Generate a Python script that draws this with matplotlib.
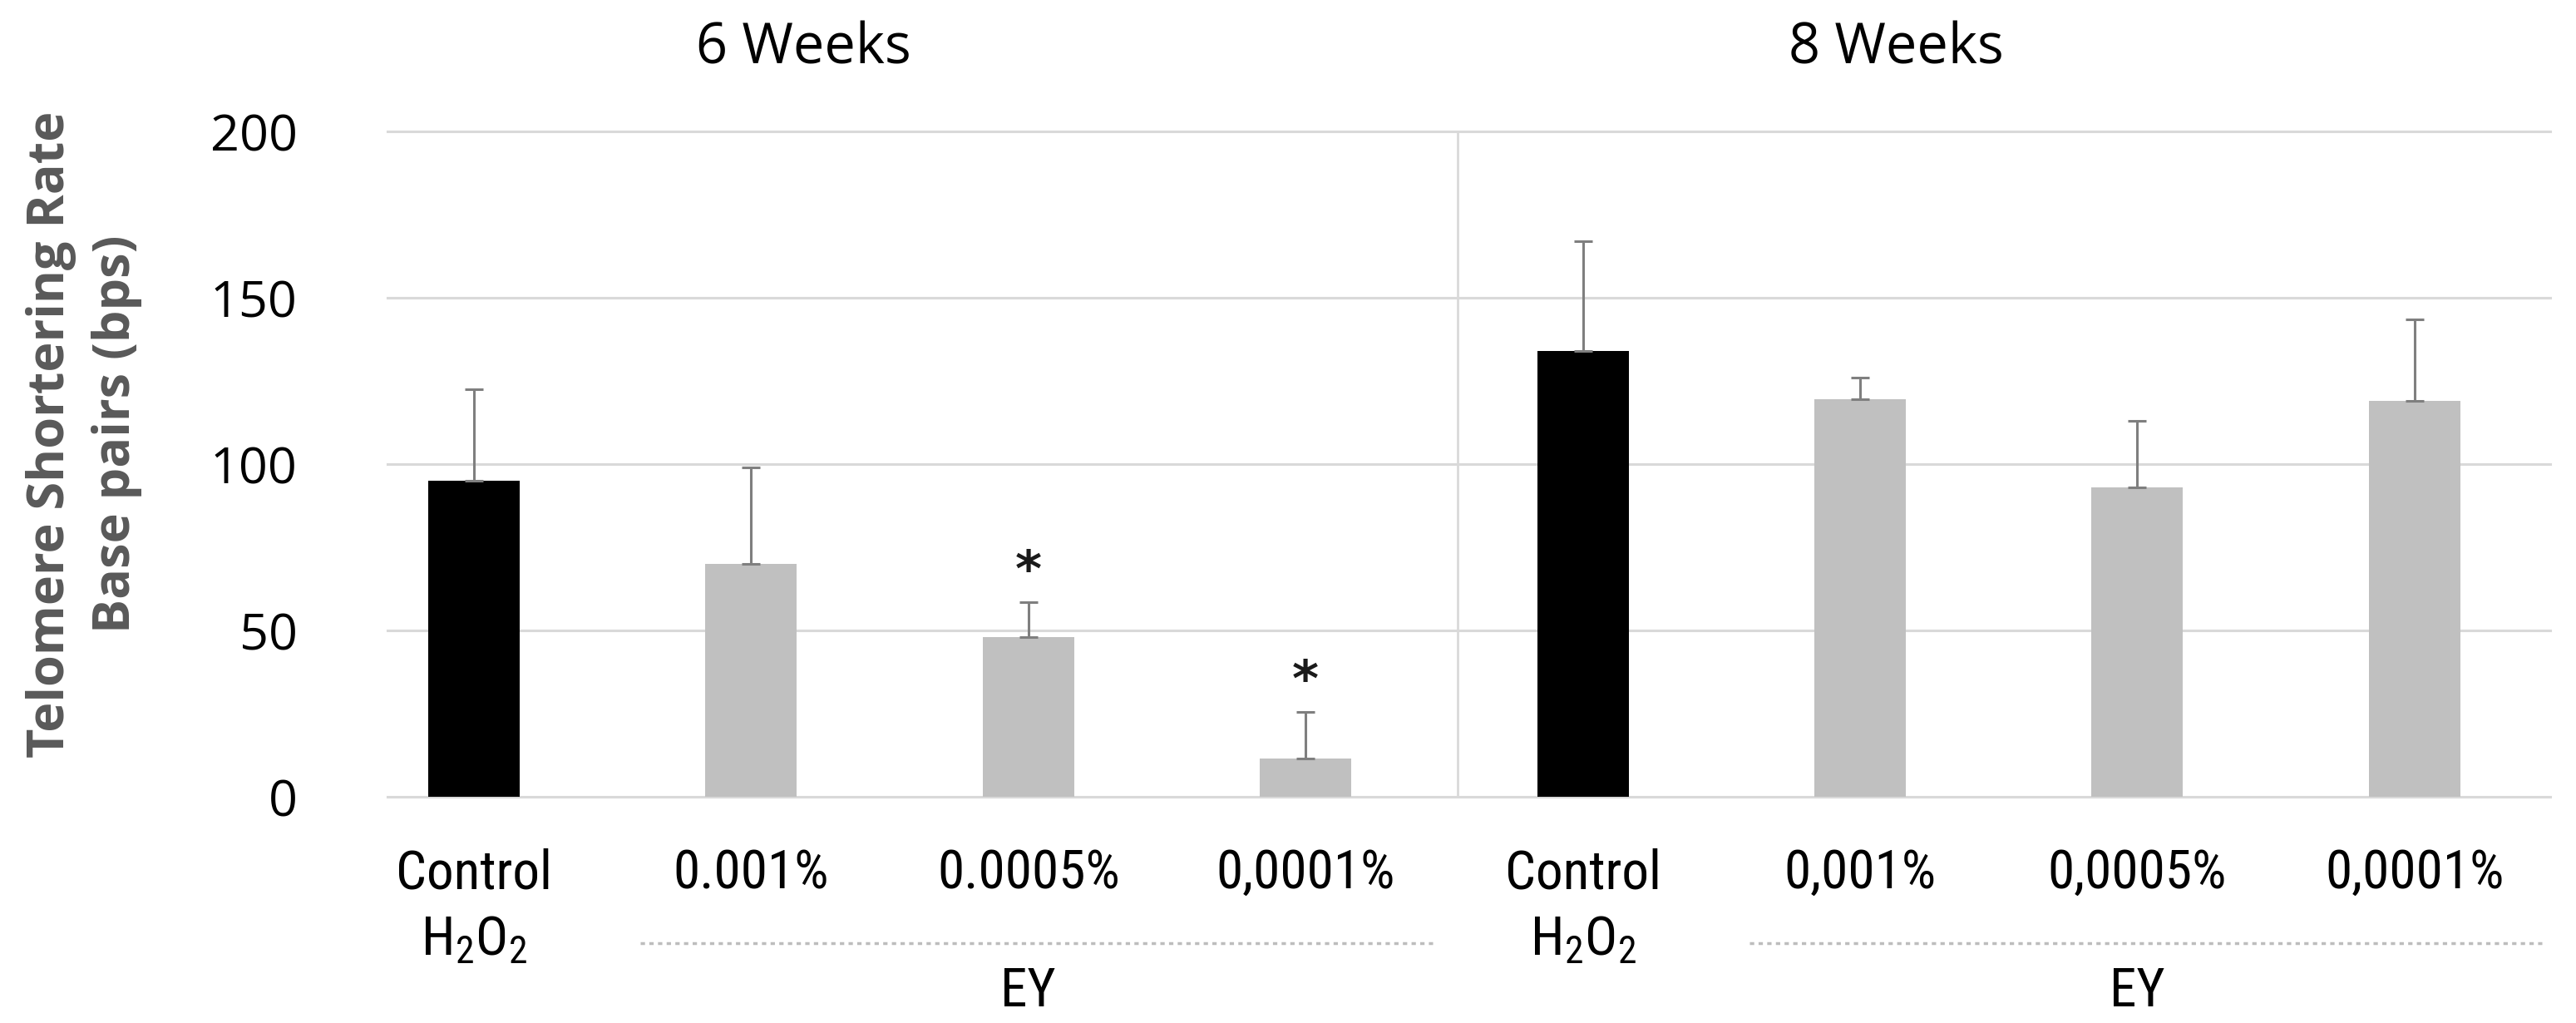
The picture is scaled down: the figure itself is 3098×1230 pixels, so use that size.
import numpy as np
import matplotlib.pyplot as plt
from matplotlib import transforms

# データ ------------------------------------
labels = ['Control', '0.001%', '0.0005%', '0,0001%',
          'Control', '0,001%', '0,0005%', '0,0001%']
means = [95, 70, 48, 11.5, 134, 119.5, 93, 119]
sd = [27.5, 29, 10.5, 14, 33, 6.5, 20, 24.5]
is_control = [True, False, False, False, True, False, False, False]
signif = [False, False, True, True, False, False, False, False]
titles = ['6 Weeks', '8 Weeks']
ey_groups = [[1, 2, 3], [5, 6, 7]]
yticks = [0, 50, 100, 150, 200]

# スタイル ----------------------------------
W, H = 3098, 1230
narrow = ['Roboto Condensed', 'Barlow Condensed', 'Archivo Narrow', 'DejaVu Sans']
plain = ['Open Sans', 'DejaVu Sans']
grid_col = '#d9d9d9'
lab_fs = 47

fig = plt.figure(figsize=(W / 100, H / 100), dpi=100)
ax = fig.add_axes([466 / W, 1 - 958 / H, (3067 - 466) / W, 800 / H])

x = np.arange(len(means))
bar_col = ['black' if c else '#c0c0c0' for c in is_control]
ax.bar(x, means, width=0.33, color=bar_col, zorder=2)
ax.errorbar(x, means, yerr=[np.zeros(len(sd)), sd], fmt='none',
            ecolor='#7f7f7f', elinewidth=2.2, capsize=8, capthick=2.2,
            zorder=3, clip_on=False)

# 有意差の星
for i in range(len(means)):
    if signif[i]:
        ax.annotate('*', xy=(x[i], means[i] + sd[i]), xytext=(0, 14),
                    textcoords='offset points', ha='center', va='baseline',
                    fontsize=44, fontweight='bold', color='#1a1a1a')

ax.set_xlim(-0.312, 7.49)
ax.set_ylim(0, 200)
ax.set_yticks(yticks)
ax.set_yticklabels([str(v) for v in yticks], family=plain, fontsize=44)
ax.set_xticks(x)
ax.set_xticklabels(labels, family=narrow, fontsize=lab_fs)
ax.tick_params(axis='y', length=0, pad=78)
ax.tick_params(axis='x', length=0, pad=44)
for s in ax.spines.values():
    s.set_visible(False)
ax.set_axisbelow(True)
ax.yaxis.grid(True, color=grid_col, lw=2.2)
for gl in ax.get_ygridlines():
    gl.set_clip_on(False)
ax.axvline(3.55, color=grid_col, lw=2, zorder=0.5)

trans = transforms.blended_transform_factory(ax.transData, ax.transAxes)

# H2O2 の 2 行目
for i in range(len(means)):
    if is_control[i]:
        ax.text(x[i], -0.1775, r'$\mathregular{H_2O_2}$', transform=trans,
                ha='center', va='top', fontsize=lab_fs, family=narrow)

# EY の破線とラベル
for g in ey_groups:
    ax.plot([g[0] - 0.4, g[-1] + 0.46], [-0.22, -0.22], transform=trans,
            color='#bdbdbd', lw=2.5, ls=(0, (1.5, 1.5)), clip_on=False)
    ax.text(np.mean(g), -0.2925, 'EY', transform=trans, ha='center',
            va='center', fontsize=lab_fs, family=narrow)

# 上のタイトル
fig.text(966 / W, 1 - 59 / H, titles[0], ha='center', va='center',
         fontsize=48, family=plain)
fig.text(2280 / W, 1 - 59 / H, titles[1], ha='center', va='center',
         fontsize=48, family=plain)

# 縦軸ラベル
fig.text(101 / W, 1 - 522 / H, 'Telomere Shortering Rate\nBase pairs (bps)',
         rotation=90, ha='center', va='center', multialignment='center',
         fontsize=44, fontweight='bold', color='#595959', family=plain,
         linespacing=1.4)

fig.savefig('out.png', dpi=100)
